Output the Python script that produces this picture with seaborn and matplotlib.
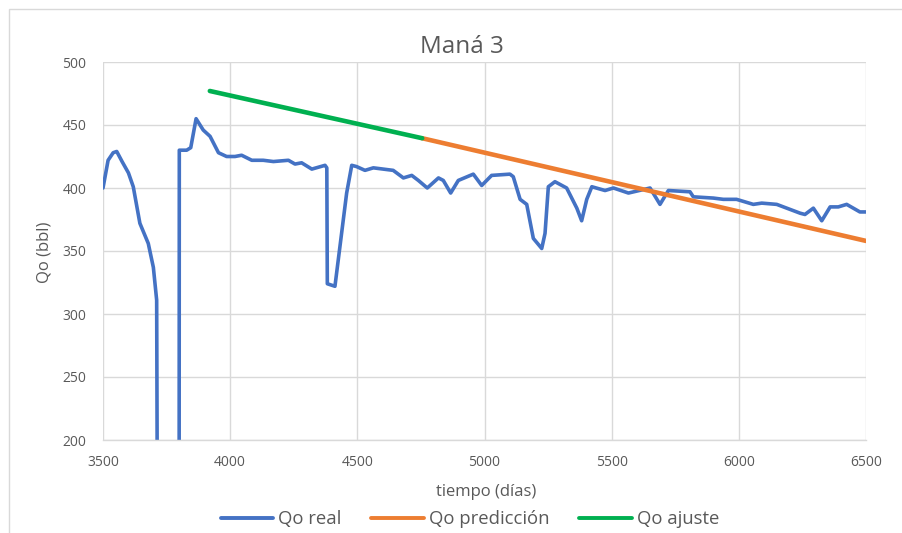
import numpy as np
import pandas as pd
import matplotlib
matplotlib.use("Agg")
import matplotlib.pyplot as plt
import seaborn as sns
from matplotlib.patches import Rectangle

# Qo real
real_t = [3500, 3520, 3540, 3554, 3575, 3600, 3619, 3645, 3678, 3698, 3711, 3716,
          3799, 3800, 3829, 3845, 3866, 3894, 3921, 3954, 3986, 4019, 4045, 4085,
          4130, 4170, 4229, 4255, 4281, 4321, 4373, 4380, 4382, 4412, 4458, 4478,
          4497, 4530, 4563, 4641, 4681, 4714, 4740, 4775, 4819, 4838, 4867, 4897,
          4956, 4989, 5028, 5100, 5113, 5140, 5166, 5192, 5225, 5238, 5251, 5277,
          5323, 5363, 5382, 5402, 5422, 5474, 5507, 5566, 5651, 5690, 5723, 5808,
          5821, 5900, 5939, 5991, 6057, 6090, 6149, 6241, 6260, 6293, 6326, 6359,
          6391, 6424, 6476, 6500]
real_q = [400, 422, 428, 429, 421, 412, 401, 372, 356, 337, 311, 0,
          0, 430, 430, 432, 455, 446, 441, 428, 425, 425, 426, 422,
          422, 421, 422, 419, 420, 415, 418, 416, 324, 322, 396, 418,
          417, 414, 416, 414, 408, 410, 406, 400, 408, 406, 396, 406,
          411, 402, 410, 411, 409, 391, 387, 360, 352, 364, 401, 405,
          400, 384, 374, 391, 401, 398, 400, 396, 400, 387, 398, 397,
          393, 392, 391, 391, 387, 388, 387, 380, 379, 384, 374, 385,
          385, 387, 381, 381]

# Qo ajuste / Qo predicción
ajuste_t = [3920, 4755]
ajuste_q = [477, 439.5]
pred_t = [4755, 6500]
pred_q = [439.5, 358]

sns.set_style("white")
plt.rcParams['font.family'] = ['Open Sans', 'DejaVu Sans']

fig = plt.figure(figsize=(9.03, 5.33), dpi=100)
ax = fig.add_axes([103 / 903, 1 - 440 / 533, 763 / 903, 378 / 533])

grey_txt = "#595959"
grid_c = "#d9d9d9"

sns.lineplot(x=real_t, y=real_q, ax=ax, color="#4472C4", linewidth=2.6,
             label="Qo real", sort=False)
sns.lineplot(x=pred_t, y=pred_q, ax=ax, color="#ED7D31", linewidth=3.3,
             label="Qo predicción", sort=False)
sns.lineplot(x=ajuste_t, y=ajuste_q, ax=ax, color="#00B050", linewidth=3.3,
             label="Qo ajuste", sort=False)

ax.set_xlim(3500, 6500)
ax.set_ylim(200, 500)
ax.set_xticks(np.arange(3500, 6501, 500))
ax.set_yticks(np.arange(200, 501, 50))
ax.grid(True, color=grid_c, linewidth=1.0)
ax.set_axisbelow(True)
for side in ["top", "right", "left"]:
    ax.spines[side].set_visible(False)
ax.spines["bottom"].set_color(grid_c)
ax.spines["bottom"].set_linewidth(1.0)
ax.tick_params(axis="both", length=0, labelsize=10, colors=grey_txt)
ax.tick_params(axis="x", pad=11)
ax.tick_params(axis="y", pad=12)

ax.set_xlabel("")
ax.set_ylabel("")
fig.text(462 / 903, 1 - 47 / 533, "Maná 3", ha="center", va="center",
         fontsize=17.5, color=grey_txt)
fig.text(486 / 903, 1 - 492 / 533, "tiempo (días)", ha="center", va="center",
         fontsize=12, color=grey_txt)
fig.text(45 / 903, 1 - 252 / 533, "Qo (bbl)", ha="center", va="center",
         rotation=90, fontsize=12, color=grey_txt)

leg = ax.legend(loc="center", bbox_to_anchor=(470 / 903, 1 - 519 / 533),
                bbox_transform=fig.transFigure, ncol=3, frameon=False,
                fontsize=13.3, handlelength=2.85, handletextpad=0.27,
                columnspacing=1.6, borderpad=0)
for txt in leg.get_texts():
    txt.set_color(grey_txt)
for h in leg.get_lines():
    h.set_linewidth(2.8)

# chart area border (only top and left edges show in the crop)
fig.patches.append(Rectangle((9.5 / 903, -0.05), 1.2, 1 - 9.5 / 533 + 0.05,
                             transform=fig.transFigure, fill=False,
                             edgecolor=grid_c, linewidth=1.0))

fig.savefig("out.png", dpi=100)
